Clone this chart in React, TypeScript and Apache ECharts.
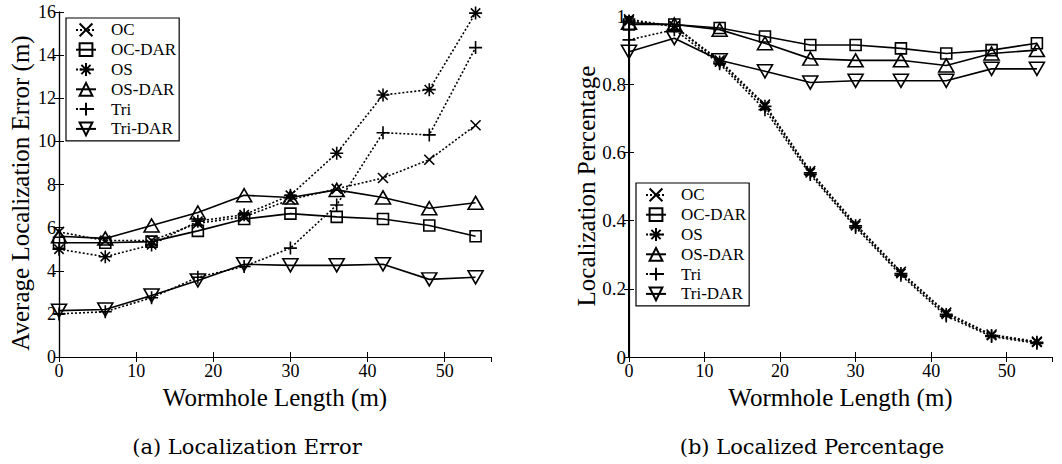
import React, { useEffect, useRef } from "react";
import * as echarts from "echarts";

const lengths = [0, 6, 12, 18, 24, 30, 36, 42, 48, 54];
const seriesNames = ["OC", "OC-DAR", "OS", "OS-DAR", "Tri", "Tri-DAR"];

// (a) Average localization error (m)
const errOC = [5.8, 5.4, 5.4, 6.2, 6.5, 7.3, 7.8, 8.3, 9.15, 10.75];
const errOCDAR = [5.3, 5.3, 5.35, 5.85, 6.4, 6.65, 6.5, 6.4, 6.1, 5.6];
const errOS = [5.0, 4.65, 5.2, 6.3, 6.6, 7.5, 9.45, 12.15, 12.4, 15.95];
const errOSDAR = [5.6, 5.5, 6.1, 6.7, 7.5, 7.4, 7.75, 7.4, 6.9, 7.15];
const errTri = [2.0, 2.1, 2.75, 3.7, 4.2, 5.05, 7.05, 10.4, 10.3, 14.35];
const errTriDAR = [2.15, 2.2, 2.85, 3.55, 4.3, 4.25, 4.25, 4.3, 3.6, 3.7];

// (b) Localization percentage
const pctOC = [0.99, 0.97, 0.87, 0.74, 0.545, 0.39, 0.25, 0.13, 0.066, 0.045];
const pctOCDAR = [0.975, 0.975, 0.965, 0.94, 0.915, 0.915, 0.905, 0.89, 0.9, 0.92];
const pctOS = [0.985, 0.97, 0.865, 0.735, 0.54, 0.385, 0.245, 0.125, 0.063, 0.043];
const pctOSDAR = [0.98, 0.975, 0.96, 0.92, 0.875, 0.87, 0.87, 0.855, 0.89, 0.9];
const pctTri = [0.93, 0.96, 0.86, 0.725, 0.535, 0.38, 0.24, 0.12, 0.06, 0.04];
const pctTriDAR = [0.895, 0.935, 0.87, 0.838, 0.805, 0.81, 0.81, 0.81, 0.845, 0.845];

const xTicks = [0, 10, 20, 30, 40, 50];
const errTicks = [0, 2, 4, 6, 8, 10, 12, 14, 16];
const pctTicks = [0, 0.2, 0.4, 0.6, 0.8, 1];

const FONT = "'Liberation Serif', 'Times New Roman', Times, serif";
const CAPTION_FONT = "'DejaVu Serif', serif";

const CROSS = "path://M0,0L10,10M10,0L0,10";
const STAR = "path://M5,0L5,10M0,5L10,5M1.4,1.4L8.6,8.6M8.6,1.4L1.4,8.6";
const PLUS = "path://M5,0L5,10M0,5L10,5";
const DOWN = "path://M0,0L10,0L5,8.7Z";

const styles: Record<string, { symbol: string; size: any; dashed: boolean }> = {
  OC: { symbol: CROSS, size: 10, dashed: true },
  "OC-DAR": { symbol: "rect", size: 11, dashed: false },
  OS: { symbol: STAR, size: 13, dashed: true },
  "OS-DAR": { symbol: "triangle", size: [15, 13], dashed: false },
  Tri: { symbol: PLUS, size: 13, dashed: true },
  "Tri-DAR": { symbol: DOWN, size: [15, 13], dashed: false },
};

function makeSeries(name: string, values: number[], xi: number, yi: number) {
  const s = styles[name];
  return {
    name,
    type: "line",
    xAxisIndex: xi,
    yAxisIndex: yi,
    data: lengths.map((x, i) => [x, values[i]]),
    symbol: s.symbol,
    symbolSize: s.size,
    showAllSymbol: true,
    color: "#000",
    lineStyle: { color: "#000", width: 1.6, type: s.dashed ? [2, 2] : "solid" },
    itemStyle: { color: "none", borderColor: "#000", borderWidth: 1.6 },
    emphasis: { disabled: true },
    z: 3,
  };
}

function axisPair(gridIndex: number) {
  const base = {
    gridIndex,
    type: "value",
    min: 0,
    max: 56,
    interval: 10,
    axisLine: { show: true, lineStyle: { color: "#000", width: 1.2 } },
    axisTick: { show: true, inside: true, length: 5, lineStyle: { color: "#000" } },
    splitLine: { show: false },
  };
  return [
    {
      ...base,
      position: "bottom",
      name: "Wormhole Length (m)",
      nameLocation: "middle",
      nameGap: 19,
      nameTextStyle: { fontFamily: FONT, fontSize: 25, color: "#000" },
      axisLabel: {
        fontFamily: FONT,
        fontSize: 18,
        color: "#000",
        margin: 5,
        showMaxLabel: false,
        formatter: (v: number) => (xTicks.indexOf(v) >= 0 ? String(v) : ""),
      },
    },
    {
      ...base,
      position: "top",
      axisLabel: { show: false },
    },
  ];
}

function makeLegend(left: number, top: number) {
  return {
    data: seriesNames,
    orient: "vertical",
    left,
    top,
    itemWidth: 20,
    itemHeight: 16,
    itemGap: 2,
    padding: [3, 3, 3, 9],
    backgroundColor: "#fff",
    borderColor: "#000",
    borderWidth: 1.2,
    borderRadius: 0,
    selectedMode: false,
    textStyle: { fontFamily: FONT, fontSize: 17, color: "#000", padding: [0, 0, 0, 10] },
    z: 10,
  };
}

export default function App() {
  const ref = useRef<HTMLDivElement>(null);
  useEffect(() => {
    if (!ref.current) return;
    const chart = echarts.init(ref.current, undefined, { renderer: "svg" });
    const [xa0, xa1] = axisPair(0);
    const [xb0, xb1] = axisPair(1);
    const yCommon = {
      type: "value",
      min: 0,
      axisLine: { show: true, lineStyle: { color: "#000", width: 1.2 } },
      axisTick: { show: true, inside: true, length: 5, lineStyle: { color: "#000" } },
      splitLine: { show: false },
    };
    const option: any = {
      animation: false,
      backgroundColor: "#fff",
      grid: [
        { left: 59, top: 12, width: 432, height: 345 },
        { left: 629, top: 16, width: 423, height: 341 },
      ],
      xAxis: [xa0, xa1, xb0, xb1],
      yAxis: [
        {
          ...yCommon,
          gridIndex: 0,
          position: "left",
          max: 16,
          interval: 2,
          axisLabel: {
            fontFamily: FONT,
            fontSize: 18,
            color: "#000",
            margin: 3,
            formatter: (v: number) => (errTicks.indexOf(v) >= 0 ? String(v) : ""),
          },
        },
        { ...yCommon, gridIndex: 0, position: "right", max: 16, interval: 2, axisLabel: { show: false } },
        {
          ...yCommon,
          gridIndex: 1,
          position: "left",
          max: 1,
          interval: 0.2,
          axisLine: { show: true, lineStyle: { color: "#000", width: 2 } },
          axisLabel: {
            fontFamily: FONT,
            fontSize: 19,
            color: "#000",
            margin: 3,
            formatter: (v: number) => {
              const r = Math.round(v * 10) / 10;
              return pctTicks.indexOf(r) >= 0 ? String(r) : "";
            },
          },
        },
        { ...yCommon, gridIndex: 1, position: "right", max: 1, interval: 0.2, axisLabel: { show: false } },
      ],
      legend: [makeLegend(66, 18), makeLegend(636, 183)],
      series: [
        makeSeries("OC", errOC, 0, 0),
        makeSeries("OC-DAR", errOCDAR, 0, 0),
        makeSeries("OS", errOS, 0, 0),
        makeSeries("OS-DAR", errOSDAR, 0, 0),
        makeSeries("Tri", errTri, 0, 0),
        makeSeries("Tri-DAR", errTriDAR, 0, 0),
        makeSeries("OC", pctOC, 2, 2),
        makeSeries("OC-DAR", pctOCDAR, 2, 2),
        makeSeries("OS", pctOS, 2, 2),
        makeSeries("OS-DAR", pctOSDAR, 2, 2),
        makeSeries("Tri", pctTri, 2, 2),
        makeSeries("Tri-DAR", pctTriDAR, 2, 2),
      ],
      graphic: [
        {
          type: "text",
          x: 20,
          y: 193,
          rotation: Math.PI / 2,
          style: {
            text: "Average Localization Error (m)",
            fontFamily: FONT,
            fontSize: 25,
            fill: "#000",
            align: "center",
            verticalAlign: "middle",
          },
        },
        {
          type: "text",
          x: 586,
          y: 186,
          rotation: Math.PI / 2,
          style: {
            text: "Localization Percentage",
            fontFamily: FONT,
            fontSize: 25,
            fill: "#000",
            align: "center",
            verticalAlign: "middle",
          },
        },
        {
          type: "text",
          x: 247,
          y: 447,
          style: {
            text: "(a) Localization Error",
            fontFamily: CAPTION_FONT,
            fontSize: 21,
            fill: "#000",
            align: "center",
            verticalAlign: "middle",
          },
        },
        {
          type: "text",
          x: 812,
          y: 447,
          style: {
            text: "(b) Localized Percentage",
            fontFamily: CAPTION_FONT,
            fontSize: 21,
            fill: "#000",
            align: "center",
            verticalAlign: "middle",
          },
        },
      ],
    };
    chart.setOption(option);
    return () => chart.dispose();
  }, []);
  return <div ref={ref} style={{ position: "fixed", left: 0, top: 0, width: 1062, height: 464 }} />;
}
